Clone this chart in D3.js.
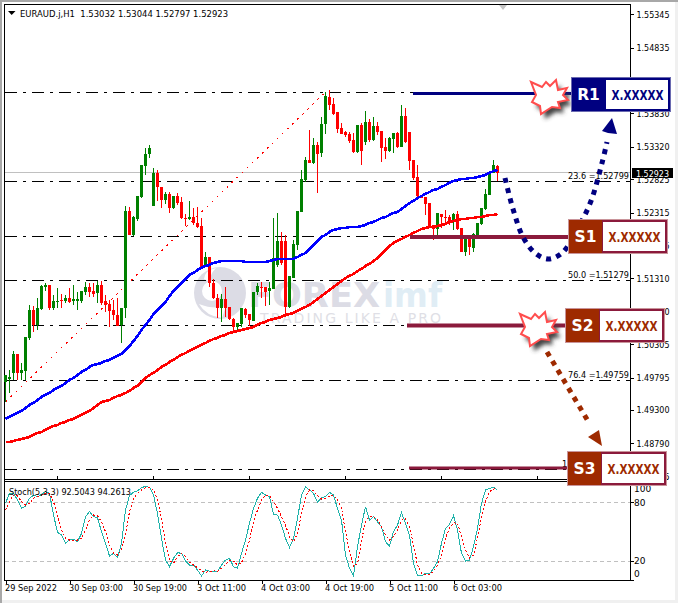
<!DOCTYPE html>
<html><head><meta charset="utf-8">
<script src="https://cdnjs.cloudflare.com/ajax/libs/d3/7.8.5/d3.min.js"></script>
<style>html,body{margin:0;padding:0;background:#fff}svg{display:block}text{font-family:"DejaVu Sans",sans-serif}</style>
</head><body><div id="chart"></div>
<script>
// Prices are in points (price x 100000)
const open=[149727,149773,149865,150155,149865,149896,150400,150827,150598,150843,
151179,151210,150858,150949,150980,150965,151011,150965,150965,150965,
151102,151179,151118,151087,151210,150965,150919,150827,150751,150598,
150858,152340,151973,152217,152554,153028,153211,152416,152921,152707,
152508,152600,152386,152569,152478,152233,152217,152248,152157,152111,
151485,151637,151240,151011,150858,150995,150873,150690,150568,150614,
150843,150766,150660,151102,151179,151179,151118,151148,151515,151882,
151882,150873,151316,151821,152325,152814,153118,153073,153349,153226,
153669,154082,153975,153853,153608,153547,153517,153425,153242,153654,
153394,153700,153425,153639,153562,153318,153257,153440,153532,153318,
153792,153547,153118,152860,152569,152554,152462,152126,152065,152294,
152248,152248,152187,152294,152080,151714,151973,151775,151973,152142,
152371,152584,152921,153032];
const high=[149835,149911,150201,150155,150018,150415,150904,150889,151011,151210,
151240,151210,151057,151164,151072,151057,151164,151210,151102,151118,
151255,151240,151240,151271,151271,151057,150980,150980,151011,150858,
152416,152401,152263,152569,153043,153303,153349,152997,152967,152707,
152630,152630,152569,152615,152554,152294,152493,152386,152401,152233,
151714,151637,151301,151072,151072,151179,150873,150705,150629,150858,
150858,150766,151102,151240,151255,151179,151255,152233,152310,152019,
151973,151347,151897,152340,152967,153165,153578,153456,153394,153776,
154158,154189,154067,153853,153685,153562,153547,153532,153654,153685,
153868,153746,153776,153700,153562,153456,153471,153532,153547,153960,
153914,153547,153118,153043,152569,152554,152462,152126,152310,152294,
152355,152279,152310,152340,152080,151973,151973,152004,152157,152386,
152676,152936,153118,153044];
const low=[149421,149559,149758,149758,149758,149758,150369,150491,150522,150827,
151118,150827,150827,150858,150858,150934,150934,150904,150827,150934,
151057,151026,151026,150934,150904,150796,150568,150675,150583,150323,
150705,151973,151958,152187,152538,152890,153150,152416,152493,152386,
152447,152310,152371,152432,152217,152111,152202,152126,152080,151469,
151485,151179,150995,150705,150644,150721,150675,150491,150491,150568,
150705,150583,150660,151057,151011,150889,150904,151148,151485,151515,
150721,150858,151316,151744,152325,152783,153073,153058,152615,153165,
153517,153883,153807,153532,153517,153471,153379,153226,153226,153043,
153349,153394,153410,153502,153089,153135,153242,153226,153303,153318,
153379,152967,152814,152508,152538,152279,152080,151897,151958,152080,
152126,152126,152050,152050,151714,151653,151668,151714,151958,152126,
152355,152584,152921,152797];
const close=[149835,149804,150155,149865,149911,150415,150827,150598,150858,151194,
151210,150858,150965,150965,150965,151011,150949,150995,150995,151118,
151179,151102,151072,151210,150934,150904,150812,150751,150583,150858,
152340,151973,152248,152569,153043,153211,153303,152921,152707,152508,
152600,152386,152569,152462,152233,152217,152248,152157,152096,151469,
151637,151240,151011,150858,150995,150858,150690,150568,150629,150858,
150751,150675,151102,151194,151164,151102,151164,151622,151882,151546,
150873,151347,151836,152340,152829,153118,153073,153349,153211,153669,
154097,153960,153822,153593,153517,153502,153410,153242,153654,153257,
153700,153425,153639,153547,153303,153257,153456,153532,153318,153792,
153394,153104,152844,152569,152538,152447,152096,152065,152310,152248,
152233,152157,152294,152065,151714,151943,151790,151989,152157,152386,
152600,152936,153043,152923];
const maBlue=[149162,149193,149223,149254,149284,149330,149376,149407,149452,149498,
149529,149559,149605,149636,149666,149712,149758,149788,149834,149880,
149911,149957,149987,150003,150018,150048,150064,150094,150125,150155,
150216,150277,150354,150430,150522,150598,150675,150766,150827,150889,
150950,151041,151118,151179,151240,151301,151362,151393,151439,151469,
151500,151515,151546,151561,151576,151576,151576,151576,151576,151576,
151561,151561,151561,151561,151561,151561,151576,151591,151607,151607,
151607,151607,151607,151637,151668,151698,151759,151821,151882,151943,
151973,152019,152050,152065,152080,152080,152096,152096,152096,152111,
152126,152157,152172,152202,152233,152248,152279,152310,152325,152371,
152416,152462,152493,152538,152569,152600,152630,152661,152676,152707,
152737,152768,152799,152814,152829,152829,152844,152844,152860,152875,
152890,152921,152951,152967];
const maRed=[148811,148811,148826,148842,148856,148872,148887,148918,148948,148963,
148994,149025,149055,149070,149101,149116,149147,149162,149193,149223,
149254,149284,149330,149376,149421,149437,149452,149483,149513,149529,
149559,149590,149636,149666,149727,149788,149834,149865,149911,149957,
149987,150033,150064,150109,150140,150170,150201,150232,150262,150293,
150323,150354,150384,150400,150430,150446,150476,150491,150507,150522,
150537,150553,150568,150598,150629,150644,150675,150690,150705,150721,
150751,150766,150782,150812,150843,150873,150904,150950,150995,151041,
151087,151133,151179,151225,151271,151316,151347,151377,151423,151454,
151500,151530,151576,151622,151683,151744,151805,151851,151882,151912,
151943,151973,152004,152034,152065,152080,152096,152096,152111,152126,
152142,152172,152187,152202,152217,152217,152233,152233,152248,152248,
152263,152279,152279,152294];
const stochMain=[79.0,89.3,89.3,82.4,73.8,76.2,84.1,87.5,85.8,88.2,91.0,89.3,67.0,49.2,46.4,37.9,41.3,42.3,39.6,48.1,
65.3,70.4,65.3,64.2,49.9,37.9,24.8,27.6,23.1,37.9,72.1,86.9,90.3,92.0,95.1,96.5,95.4,87.5,68.7,43.0,
20.7,13.9,22.4,28.3,27.6,19.7,15.6,15.6,10.5,4.3,10.5,9.4,8.8,8.8,15.6,20.7,22.4,13.9,12.2,27.6,
41.3,58.4,73.8,84.1,90.3,87.5,85.8,67.7,67.0,56.7,43.0,33.8,43.0,63.6,87.5,96.1,92.7,89.3,80.0,84.8,
85.8,90.3,87.5,73.8,61.8,25.9,12.2,4.3,34.4,56.7,75.6,61.8,65.3,60.1,55.0,39.6,35.1,49.9,56.7,69.4,
58.4,46.4,17.3,5.3,4.6,7.0,6.3,12.2,19.0,37.9,53.3,57.4,66.3,51.6,27.6,19.7,20.7,34.4,53.3,79.0,
92.7,94.4,95.4,92.5043];
const stochSignal=[72.1,80.7,87.5,86.9,80.7,77.3,79.0,84.1,85.8,87.5,89.3,89.3,80.7,65.3,51.6,43.0,41.3,40.6,41.3,43.0,
51.6,61.8,67.0,66.3,60.1,49.9,36.2,27.6,25.9,31.0,46.4,70.4,84.1,89.3,92.7,95.1,95.4,92.7,82.4,63.6,
37.9,20.7,17.3,24.2,27.6,24.2,18.3,15.6,12.9,9.8,8.1,8.8,9.8,8.8,12.2,16.3,20.7,19.7,15.6,18.0,
26.9,41.3,60.1,72.1,82.4,86.9,86.9,80.7,73.8,65.3,56.7,44.7,39.6,48.1,68.7,85.8,92.7,91.7,86.9,83.4,
84.1,86.5,87.5,82.4,73.8,49.9,29.3,13.9,17.3,39.6,61.8,65.3,65.3,61.8,55.0,46.4,41.3,44.7,51.6,61.8,
62.9,55.0,36.2,15.6,7.0,6.0,6.0,8.8,15.6,25.9,43.0,53.3,59.1,58.4,44.7,31.0,22.4,25.9,43.0,65.3,
80.7,91.0,93.7,94.2613];
const priceTicks=[155345,154835,154325,153830,153320,152825,152315,151805,151310,150800,150305,149795,149300,148790,148285];
const timeLabels=["29 Sep 2022","30 Sep 03:00","30 Sep 19:00","3 Oct 11:00","4 Oct 03:00","4 Oct 19:00","5 Oct 11:00","6 Oct 03:00"];
const timeTickIndex=[0,16,32,48,64,80,96,112];
const fibPct=["23.6","38.2","50.0","76.4","100.0"];
const fibLabelled=[152799,151959,151279,149759,148400];
const fibLevels=[152799,151959,151279,150599,149759,148400];
const fibTop=154158;
const bidPrice=152923;

const W=678,H=603;
const svg=d3.select("#chart").append("svg").attr("width",W).attr("height",H);
const defs=svg.append("defs");
defs.append("filter").attr("id","blur").attr("x","-40%").attr("y","-40%").attr("width","180%").attr("height","180%")
  .append("feGaussianBlur").attr("stdDeviation",2);

const x=d3.scaleLinear().domain([0,123]).range([5.5,497.5]);
const y=d3.scaleLinear().domain([155345,148790]).range([14.3,443.3]);
const ys=d3.scaleLinear().domain([0,100]).range([580.2,482.9]);
const fmtP=p=>(p/1e5).toFixed(5);
const px=v=>Math.round(v);

// frame background
svg.append("rect").attr("width",W).attr("height",H).attr("fill","#f0f0f0");
svg.append("rect").attr("x",0).attr("y",0).attr("width",2).attr("height",H).attr("fill","#a8a8a8");
svg.append("rect").attr("x",0).attr("y",0).attr("width",W).attr("height",2).attr("fill","#a8a8a8");
svg.append("rect").attr("x",2).attr("y",2).attr("width",673).attr("height",598).attr("fill","#fff");

// watermark
const wm=svg.append("g");
wm.append("circle").attr("cx",220).attr("cy",293).attr("r",26).attr("fill","#dcdce5");
wm.append("circle").attr("cx",212).attr("cy",291).attr("r",10).attr("fill","#fff");
wm.append("path").attr("d","M216 268 Q207 277 212 283 L204 279 Q205 270 216 268Z").attr("fill","#fff");
wm.append("path").attr("d","M199 304 Q214 310 226 306 L222 318 Q206 316 199 304Z").attr("fill","#fff");
wm.append("text").attr("x",248).attr("y",307).attr("font-family","Liberation Sans").attr("font-size",34).attr("font-weight",700).attr("fill","#dcdce5")
  .attr("textLength",132).attr("lengthAdjust","spacingAndGlyphs").text("FOREX");
wm.append("text").attr("x",383).attr("y",307).attr("font-family","Liberation Sans").attr("font-size",34).attr("font-weight",700).attr("fill","#e0edf5")
  .attr("textLength",59).attr("lengthAdjust","spacingAndGlyphs").text("imf");
wm.append("text").attr("x",260).attr("y",323).attr("font-family","Liberation Sans").attr("font-size",14).attr("fill","#dfdfe6")
  .attr("textLength",181).text("TRADING LIKE A PRO");

// panel frame
const frame=svg.append("g").attr("stroke","#000").attr("stroke-width",1).attr("shape-rendering","crispEdges");
[[4,4.5,631,4.5],[4,479.5,631,479.5],[4,481.5,631,481.5],[4,580.5,631,580.5],[4.5,4,4.5,581]].forEach(l=>
  frame.append("line").attr("x1",l[0]).attr("y1",l[1]).attr("x2",l[2]).attr("y2",l[3]));
[57,153,249,345,441,537].forEach(v=>frame.append("line").attr("x1",v+.5).attr("x2",v+.5).attr("y1",476).attr("y2",480));

// grey top marker
svg.append("path").attr("d","M499 5H507L503 10Z").attr("fill","#c4c4c4");

// fib levels
const chart=svg.append("g");
chart.selectAll("line.fib").data([fibTop,...fibLevels]).join("line").attr("class","fib")
  .attr("x1",5).attr("x2",630).attr("y1",d=>px(y(d))+.5).attr("y2",d=>px(y(d))+.5)
  .attr("stroke","#000").attr("stroke-dasharray","12 6 3 6").attr("shape-rendering","crispEdges");
chart.append("line").attr("x1",5).attr("x2",630).attr("y1",px(y(bidPrice))-.5).attr("y2",px(y(bidPrice))-.5)
  .attr("stroke","#c0c0c0").attr("shape-rendering","crispEdges");
chart.append("line").attr("x1",x(0)).attr("y1",y(low[0])).attr("x2",x(80)).attr("y2",y(fibTop))
  .attr("stroke","#f00").attr("stroke-dasharray","2 5").attr("shape-rendering","crispEdges");
chart.selectAll("text.fibl").data(fibLabelled).join("text").attr("class","fibl")
  .attr("x",(d,i)=>fibPct[i].length>4?562:568).attr("y",d=>px(y(d))-2).attr("font-size",9).attr("fill","#000")
  .attr("textLength",(d,i)=>fibPct[i].length>4?67:61).attr("lengthAdjust","spacingAndGlyphs")
  .text((d,i)=>fibPct[i]+" ="+fmtP(d));

// candles
const candles=d3.range(open.length).map(i=>({i,o:open[i],h:high[i],l:low[i],c:close[i]}));
const col=d=>d.c>=d.o?"#008000":"#ff0000";
const cg=chart.append("g").attr("shape-rendering","crispEdges");
cg.selectAll("line").data(candles).join("line")
  .attr("x1",d=>x(d.i)).attr("x2",d=>x(d.i)).attr("y1",d=>y(d.h)).attr("y2",d=>y(d.l)).attr("stroke",col);
cg.selectAll("rect").data(candles).join("rect")
  .attr("x",d=>x(d.i)-1.5).attr("width",3)
  .attr("y",d=>px(y(Math.max(d.o,d.c))))
  .attr("height",d=>Math.max(1,px(y(Math.min(d.o,d.c)))-px(y(Math.max(d.o,d.c)))))
  .attr("fill",col);

// moving averages
const ln=d3.line().x((d,i)=>x(i)).y(d=>y(d));
chart.append("path").attr("d",ln(maRed)).attr("fill","none").attr("stroke","#ff0000").attr("stroke-width",2.6).attr("shape-rendering","crispEdges");
chart.append("path").attr("d",ln(maBlue)).attr("fill","none").attr("stroke","#0000ff").attr("stroke-width",2.6).attr("shape-rendering","crispEdges");

// stochastic
const sg=svg.append("g");
sg.selectAll("line").data([80,20]).join("line").attr("x1",5).attr("x2",630)
  .attr("y1",d=>px(ys(d))+.5).attr("y2",d=>px(ys(d))+.5).attr("stroke","#c0c0c0").attr("stroke-dasharray","4 3")
  .attr("shape-rendering","crispEdges");
const ls=d3.line().x((d,i)=>x(i)).y(d=>ys(d));
sg.append("path").attr("d",ls(stochMain)).attr("fill","none").attr("stroke","#20b2aa").attr("stroke-width",1).attr("shape-rendering","crispEdges");
sg.append("path").attr("d",ls(stochSignal)).attr("fill","none").attr("stroke","#ff0000").attr("stroke-width",1).attr("stroke-dasharray","2 2").attr("shape-rendering","crispEdges");

// price axis
const styleAxis=g=>{g.selectAll(".domain").attr("stroke","#000").attr("shape-rendering","crispEdges");
  g.selectAll(".tick line").attr("stroke","#000").attr("shape-rendering","crispEdges");};
const yAxis=d3.axisRight(y).tickValues(priceTicks).tickSize(3).tickPadding(3).tickFormat(fmtP);
const ga=svg.append("g").attr("transform","translate(630.5,0)").call(yAxis).call(styleAxis);
ga.select(".domain").remove();
ga.selectAll("text").attr("font-size",9).attr("font-family","DejaVu Sans").attr("fill","#000")
  .attr("textLength",33).attr("lengthAdjust","spacingAndGlyphs");
svg.append("line").attr("x1",630.5).attr("x2",630.5).attr("y1",4).attr("y2",581).attr("stroke","#000").attr("shape-rendering","crispEdges");

// current price
svg.append("rect").attr("x",632).attr("y",168).attr("width",41).attr("height",10).attr("fill","#000");
svg.append("text").attr("x",636).attr("y",176.5).attr("font-size",9).attr("fill","#fff").attr("textLength",33).attr("lengthAdjust","spacingAndGlyphs").text(fmtP(bidPrice));

// stochastic axis
const stochTicks=[100,80,20,0];
svg.selectAll("text.st").data(stochTicks).join("text").attr("class","st").attr("x",634)
  .attr("y",d=>Math.min(573.3,Math.max(488.3,ys(d)))+3.5).attr("font-size",9).attr("fill","#000").text(d=>d);
svg.selectAll("line.st").data([80,20,0]).join("line").attr("class","st").attr("x1",631).attr("x2",634)
  .attr("y1",d=>px(ys(d))+.5).attr("y2",d=>px(ys(d))+.5).attr("stroke","#000").attr("shape-rendering","crispEdges");

// time axis
const tg=svg.append("g").attr("transform","translate(0,580.5)")
  .call(d3.axisBottom(x).tickValues(timeTickIndex).tickSize(3).tickFormat((d,i)=>timeLabels[i])).call(styleAxis);
tg.select(".domain").remove();
const tw=[52,54,54,49,49,49,49,49];
tg.selectAll("text").attr("text-anchor","start").attr("x",-1).attr("y",4).attr("font-size",9).attr("font-family","DejaVu Sans")
  .attr("fill","#000").attr("dy","0.71em").attr("textLength",(d,i)=>tw[i]).attr("lengthAdjust","spacingAndGlyphs");

// titles
svg.append("path").attr("d","M8 11H15.5L11.7 15Z").attr("fill","#000");
svg.append("text").attr("x",20).attr("y",16.5).attr("font-size",9.5).attr("fill","#000")
  .attr("textLength",208).attr("lengthAdjust","spacingAndGlyphs").attr("xml:space","preserve")
  .text("EURAUD.j,H1  "+[open,high,low,close].map(a=>fmtP(a[a.length-1])).join(" "));
svg.append("text").attr("x",9).attr("y",494.5).attr("font-size",9.5).attr("fill","#000")
  .attr("textLength",122).attr("lengthAdjust","spacingAndGlyphs").text("Stoch(5,3,3) 92.5043 94.2613");

// annotations
const navy="#000080",brown="#9e2a00",maroon="#8b1a3c";
const ann=svg.append("g");
function levelLine(x1,x2,yy,color,w){
  ann.append("line").attr("x1",x1).attr("x2",x2).attr("y1",yy).attr("y2",yy).attr("stroke",color).attr("stroke-width",w);
}
levelLine(413,572,93.5,navy,3);
levelLine(410,570,237,maroon,4);
levelLine(407,568,325.5,maroon,4);
levelLine(409,570,468,maroon,3);

const curve=d3.line().curve(d3.curveCatmullRom);
ann.append("path").attr("d",curve([[505,178],[513,209],[523,237],[535,253],[548,259],[562,253],[578,228],[591,201],[602,163],[607,142]]))
  .attr("fill","none").attr("stroke",navy).attr("stroke-width",5).attr("stroke-dasharray","5 5.5");
ann.append("path").attr("d","M612 118L602 131L608 133L617 134Z").attr("fill",navy);
ann.append("path").attr("d",curve([[547,352],[588,421]])).attr("fill","none").attr("stroke",brown).attr("stroke-width",5).attr("stroke-dasharray","5 5.5");
ann.append("path").attr("d","M602 446L588 437L599 430Z").attr("fill",brown);

const starPts=[[-17,-13],[-6,-8],[-2,-13],[2,-9],[8,-15],[10,-5],[19,-7],[15,0],[20,5],[10,7],[12,13],[4,12],[-7,19],[-8,11],[-16,7],[-12,0]];
const starPath=d3.line().curve(d3.curveLinearClosed)(starPts);
function star(cx,cy){
  ann.append("path").attr("d",starPath).attr("transform",`translate(${cx+4},${cy+5})`).attr("fill","#444").attr("filter","url(#blur)");
  ann.append("path").attr("d",starPath).attr("transform",`translate(${cx},${cy})`).attr("fill","#fff").attr("stroke","#ff4d4d").attr("stroke-width",2);
}
star(548,95); star(537,327);

function box(bx,by,label,fill,border,textCol,outer){
  const w=98,h=33,lw=33;
  ann.append("rect").attr("x",bx-1).attr("y",by-1).attr("width",w+2).attr("height",h+2).attr("fill",outer);
  ann.append("rect").attr("x",bx).attr("y",by).attr("width",w).attr("height",h).attr("fill",border);
  ann.append("rect").attr("x",bx).attr("y",by).attr("width",lw).attr("height",h).attr("fill",fill);
  ann.append("rect").attr("x",bx+lw+1).attr("y",by+2).attr("width",w-lw-3).attr("height",h-4).attr("fill","#fff");
  ann.append("text").attr("x",bx+lw/2).attr("y",by+h/2+5.5).attr("text-anchor","middle").attr("font-family","Liberation Sans").attr("font-size",15.5).attr("font-weight",700).attr("fill","#fff").text(label);
  ann.append("text").attr("x",bx+lw+(w-lw)/2).attr("y",by+h/2+5).attr("text-anchor","middle").attr("font-family","Liberation Sans").attr("font-size",14).attr("font-weight",700).attr("fill",textCol)
    .attr("textLength",52).attr("lengthAdjust","spacingAndGlyphs").text("X.XXXXX");
}
box(572,78,"R1",navy,navy,navy,"#6a6ab0");
box(569,220,"S1",brown,maroon,brown,"#c9949a");
box(566,309,"S2",brown,maroon,brown,"#c9949a");
box(568,452,"S3",brown,maroon,brown,"#c9949a");
</script></body></html>
